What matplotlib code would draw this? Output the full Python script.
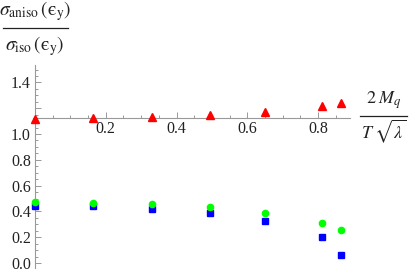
import numpy as np
import matplotlib
matplotlib.use("Agg")
import matplotlib.pyplot as plt
from matplotlib.lines import Line2D
from matplotlib.ticker import MultipleLocator, FixedLocator

plt.rcParams['font.family'] = ['Liberation Serif', 'DejaVu Serif']
plt.rcParams['mathtext.fontset'] = 'stix'

# values
x_vals = [0.0, 0.165, 0.33, 0.495, 0.65, 0.81, 0.865]
red_tri = [1.118, 1.124, 1.133, 1.147, 1.173, 1.217, 1.238]
green_dot = [0.475, 0.467, 0.457, 0.436, 0.390, 0.310, 0.258]
blue_sq = [0.442, 0.442, 0.421, 0.385, 0.328, 0.199, 0.060]

x_ticks = [0.2, 0.4, 0.6, 0.8]
x_ticklabels = ['0.2', '0.4', '0.6', '0.8']
y_ticks = [0.0, 0.2, 0.4, 0.6, 0.8, 1.0, 1.2, 1.4]
y_ticklabels = ['0.0', '0.2', '0.4', '0.6', '0.8', '1.0', '', '1.4']
axis_cross = 1.124

W, H = 409, 273
fig = plt.figure(figsize=(W / 100, H / 100), dpi=100)

# axes box in pixels
left_px, right_px = 33.2, 350.0
top_px, bot_px = 65.0, 268.2
ax = fig.add_axes([left_px / W, (H - bot_px) / H,
                   (right_px - left_px) / W, (bot_px - top_px) / H])
ax.set_xlim(-0.005, 0.89)
ax.set_ylim(-0.04, 1.535)

ax.plot(x_vals, red_tri, '^', color=(1, 0, 0), markersize=5.5, clip_on=False, zorder=5)
ax.plot(x_vals, blue_sq, 's', color=(0, 0, 1), markersize=4, clip_on=False, zorder=5)
ax.plot(x_vals, green_dot, 'o', color=(0, 1, 0), markersize=4.5, clip_on=False, zorder=6)

axis_gray = '#999999'
for s in ['top', 'right']:
    ax.spines[s].set_visible(False)
ax.spines['left'].set_position(('data', 0))
ax.spines['bottom'].set_position(('data', axis_cross))
for s in ['left', 'bottom']:
    ax.spines[s].set_color(axis_gray)
    ax.spines[s].set_linewidth(0.8)

ax.xaxis.set_major_locator(FixedLocator(x_ticks))
ax.set_xticklabels(x_ticklabels)
ax.xaxis.set_minor_locator(MultipleLocator(0.05))
ax.yaxis.set_major_locator(FixedLocator(y_ticks))
ax.set_yticklabels(y_ticklabels)
ax.yaxis.set_minor_locator(MultipleLocator(0.05))

ax.tick_params(which='both', direction='in', color=axis_gray, width=0.7,
               labelsize=11.5, labelcolor='#222222')
ax.tick_params(which='major', length=4)
ax.tick_params(which='minor', length=2.2)
ax.tick_params(axis='x', pad=2)
ax.tick_params(axis='y', pad=3)


def frac_label(xc, y_num, y_bar, y_den, x0, x1, num, den, size):
    fig.text(xc / W, 1 - y_num / H, num, fontsize=size, ha='center', va='center',
             color='#222222')
    fig.text(xc / W, 1 - y_den / H, den, fontsize=size, ha='center', va='center',
             color='#222222')
    fig.add_artist(Line2D([x0 / W, x1 / W], [1 - y_bar / H, 1 - y_bar / H],
                          transform=fig.transFigure, color='#222222', lw=0.9))


frac_label(35, 11, 28.3, 46, 2.7, 67.7,
           '$\\sigma_{\\rm aniso}\\,\\left(\\mathrm{\u03f5}_{\\rm y}\\right)$',
           '$\\sigma_{\\rm iso}\\,\\left(\\mathrm{\u03f5}_{\\rm y}\\right)$', 14)
frac_label(383.5, 100, 115.5, 131, 360, 406.5,
           r'$2\;M_q$', r'$T\;\sqrt{\lambda}$', 13)

fig.savefig('out.png', dpi=100)
